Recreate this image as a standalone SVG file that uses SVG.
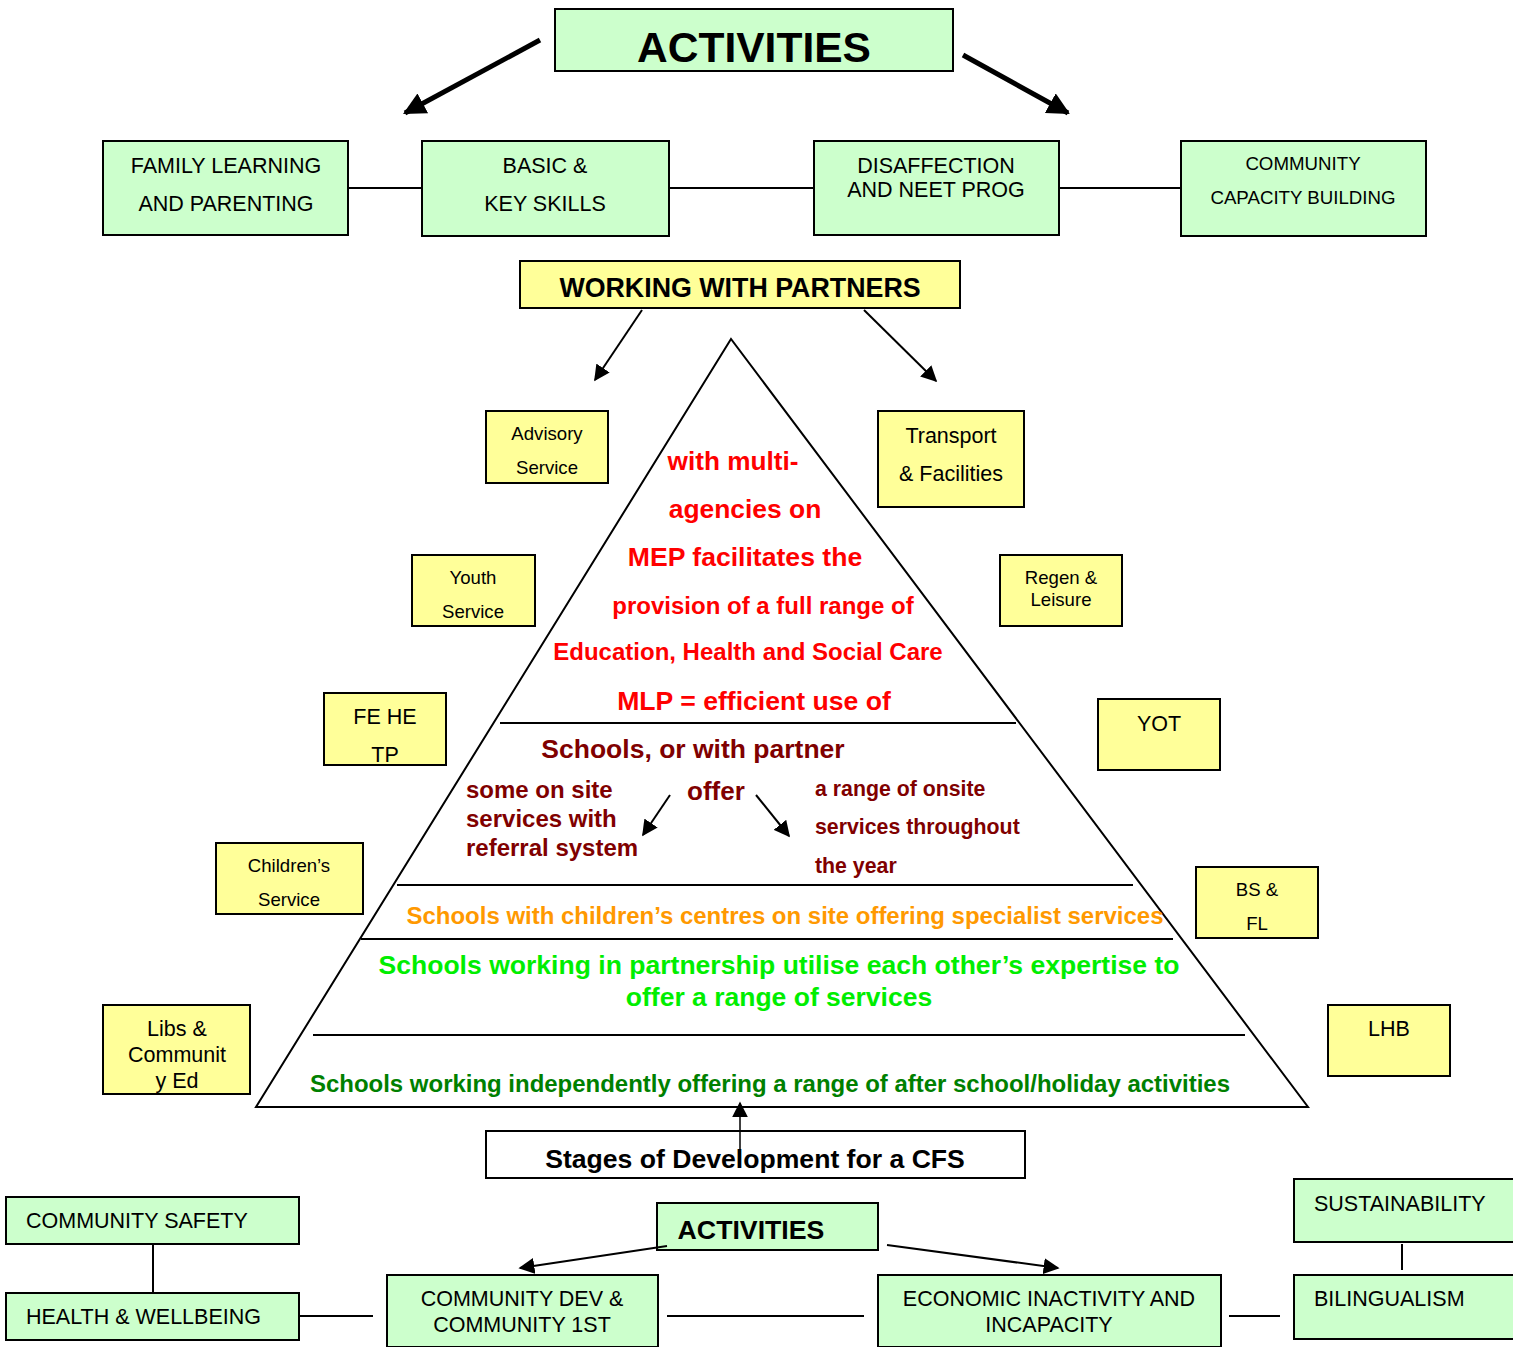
<svg xmlns="http://www.w3.org/2000/svg" width="1513" height="1347" viewBox="0 0 1513 1347">
<defs>
<marker id="ahs" viewBox="0 0 10 10" refX="9" refY="5" markerWidth="16" markerHeight="16" orient="auto" markerUnits="userSpaceOnUse">
<path d="M0,0 L10,5 L0,10 z" fill="#000"/>
</marker>
<marker id="ahb" viewBox="0 0 10 10" refX="9" refY="5" markerWidth="4.5" markerHeight="4.5" orient="auto">
<path d="M0,0 L10,5 L0,10 z" fill="#000"/>
</marker>
</defs>
<style>
text{font-family:"Liberation Sans",Arial,sans-serif;}
.g{fill:#ccffcc;stroke:#000;stroke-width:2;}
.y{fill:#ffff99;stroke:#000;stroke-width:2;}
.w{fill:#fff;stroke:#000;stroke-width:2;}
.t{font-size:21.5px;fill:#000;text-anchor:middle;}
.ts{font-size:18.6px;fill:#000;text-anchor:middle;}
.tl{font-size:21.5px;fill:#000;}
.b{font-weight:bold;}
.red{fill:#ff0000;font-weight:bold;text-anchor:middle;}
.dr{fill:#800000;font-weight:bold;}
.ln{stroke:#000;stroke-width:2;fill:none;}
</style>
<rect width="1513" height="1347" fill="#fff"/>

<g id="activities-top">
<rect class="g" x="555" y="9" width="398" height="62"/>
<text x="754" y="62" class="t b" style="font-size:42.5px">ACTIVITIES</text>
</g>
<g id="family-learning">
<rect class="g" x="103" y="141" width="245" height="94"/>
<text x="226" y="173" class="t">FAMILY LEARNING</text>
<text x="226" y="211" class="t">AND PARENTING</text>
</g>
<g id="basic-skills">
<rect class="g" x="422" y="141" width="247" height="95"/>
<text x="545" y="173" class="t">BASIC &amp;</text>
<text x="545" y="211" class="t">KEY SKILLS</text>
</g>
<g id="disaffection">
<rect class="g" x="814" y="141" width="245" height="94"/>
<text x="936" y="173" class="t">DISAFFECTION</text>
<text x="936" y="197" class="t">AND NEET PROG</text>
</g>
<g id="capacity">
<rect class="g" x="1181" y="141" width="245" height="95"/>
<text x="1303" y="170" class="t" style="font-size:18.7px">COMMUNITY</text>
<text x="1303" y="204" class="t" style="font-size:18.7px">CAPACITY BUILDING</text>
</g>
<g id="working-partners">
<rect class="y" x="520" y="261" width="440" height="47"/>
<text x="740" y="297" class="t b" style="font-size:26.8px">WORKING WITH PARTNERS</text>
</g>

<g id="pyramid">
<polygon points="731,339 256,1107 1308,1107" fill="#fff" stroke="#000" stroke-width="2"/>
<line class="ln" x1="500" y1="723" x2="1016" y2="723"/>
<line class="ln" x1="397" y1="885" x2="1133" y2="885"/>
<line class="ln" x1="361" y1="939" x2="1173" y2="939"/>
<line class="ln" x1="313" y1="1035" x2="1245" y2="1035"/>
<text x="733" y="470" class="red" style="font-size:26.2px">with multi-</text>
<text x="745" y="518" class="red" style="font-size:26.4px">agencies on</text>
<text x="745" y="566" class="red" style="font-size:26.6px">MEP facilitates the</text>
<text x="763" y="614" class="red" style="font-size:24px">provision of a full range of</text>
<text x="748" y="660" class="red" style="font-size:24px">Education, Health and Social Care</text>
<text x="754" y="710" class="red" style="font-size:26.6px">MLP = efficient use of</text>
<text x="693" y="758" class="dr" style="font-size:26.5px" text-anchor="middle">Schools, or with partner</text>
<text x="466" y="798" class="dr" style="font-size:24px">some on site</text>
<text x="466" y="827" class="dr" style="font-size:24px">services with</text>
<text x="466" y="856" class="dr" style="font-size:24px">referral system</text>
<text x="687" y="800" class="dr" style="font-size:26px">offer</text>
<text x="815" y="796" class="dr" style="font-size:21.3px">a range of onsite</text>
<text x="815" y="834" class="dr" style="font-size:21.3px">services throughout</text>
<text x="815" y="873" class="dr" style="font-size:21.3px">the year</text>
<text x="785" y="924" style="font-size:23px;fill:#ff9900;font-weight:bold" text-anchor="middle" textLength="757" lengthAdjust="spacingAndGlyphs">Schools with children’s centres on site offering specialist services</text>
<text x="779" y="974" style="font-size:26px;fill:#00ee00;font-weight:bold" text-anchor="middle" textLength="801" lengthAdjust="spacingAndGlyphs">Schools working in partnership utilise each other’s expertise to</text>
<text x="779" y="1006" style="font-size:26.5px;fill:#00ee00;font-weight:bold" text-anchor="middle">offer a range of services</text>
<text x="770" y="1092" style="font-size:23px;fill:#008000;font-weight:bold" text-anchor="middle" textLength="920" lengthAdjust="spacingAndGlyphs">Schools working independently offering a range of after school/holiday activities</text>
</g>

<g id="stages">
<rect class="w" x="486" y="1131" width="539" height="47"/>
<text x="755" y="1168" class="t b" style="font-size:26.6px">Stages of Development for a CFS</text>
</g>

<g id="advisory"><rect class="y" x="486" y="411" width="122" height="72"/>
<text x="547" y="440" class="ts">Advisory</text><text x="547" y="474" class="ts">Service</text></g>
<g id="transport"><rect class="y" x="878" y="411" width="146" height="96"/>
<text x="951" y="443" class="t">Transport</text><text x="951" y="481" class="t">&amp; Facilities</text></g>
<g id="youth"><rect class="y" x="412" y="555" width="123" height="71"/>
<text x="473" y="584" class="ts">Youth</text><text x="473" y="618" class="ts">Service</text></g>
<g id="regen"><rect class="y" x="1000" y="555" width="122" height="71"/>
<text x="1061" y="584" class="ts">Regen &amp;</text><text x="1061" y="606" class="ts">Leisure</text></g>
<g id="fehe"><rect class="y" x="324" y="693" width="122" height="72"/>
<text x="385" y="724" class="t">FE HE</text><text x="385" y="762" class="t">TP</text></g>
<g id="yot"><rect class="y" x="1098" y="699" width="122" height="71"/>
<text x="1159" y="731" class="t">YOT</text></g>
<g id="childrens"><rect class="y" x="216" y="843" width="147" height="71"/>
<text x="289" y="872" class="ts">Children’s</text><text x="289" y="906" class="ts">Service</text></g>
<g id="bsfl"><rect class="y" x="1196" y="867" width="122" height="71"/>
<text x="1257" y="896" class="ts">BS &amp;</text><text x="1257" y="930" class="ts">FL</text></g>
<g id="libs"><rect class="y" x="103" y="1005" width="147" height="89"/>
<text x="177" y="1036" class="t">Libs &amp;</text><text x="177" y="1062" class="t">Communit</text><text x="177" y="1088" class="t">y Ed</text></g>
<g id="lhb"><rect class="y" x="1328" y="1005" width="122" height="71"/>
<text x="1389" y="1036" class="t">LHB</text></g>

<g id="community-safety"><rect class="g" x="6" y="1197" width="293" height="47"/>
<text x="26" y="1228" class="tl">COMMUNITY SAFETY</text></g>
<g id="health"><rect class="g" x="6" y="1293" width="293" height="47"/>
<text x="26" y="1324" class="tl">HEALTH &amp; WELLBEING</text></g>
<g id="activities-bottom"><rect class="g" x="657" y="1203" width="221" height="47"/>
<text x="751" y="1239" class="t b" style="font-size:26.7px">ACTIVITIES</text></g>
<g id="community-dev"><rect class="g" x="387" y="1275" width="271" height="72"/>
<text x="522" y="1306" class="t">COMMUNITY DEV &amp;</text><text x="522" y="1332" class="t">COMMUNITY 1ST</text></g>
<g id="economic"><rect class="g" x="878" y="1275" width="343" height="72"/>
<text x="1049" y="1306" class="t">ECONOMIC INACTIVITY AND</text><text x="1049" y="1332" class="t">INCAPACITY</text></g>
<g id="sustainability"><rect class="g" x="1294" y="1179" width="225" height="63"/>
<text x="1314" y="1211" class="tl">SUSTAINABILITY</text></g>
<g id="bilingualism"><rect class="g" x="1294" y="1275" width="225" height="64"/>
<text x="1314" y="1306" class="tl">BILINGUALISM</text></g>

<g id="connectors">
<line x1="540" y1="40" x2="405" y2="113" stroke="#000" stroke-width="5" marker-end="url(#ahb)"/>
<line x1="963" y1="55" x2="1068" y2="113" stroke="#000" stroke-width="5" marker-end="url(#ahb)"/>
<line class="ln" x1="348" y1="188" x2="422" y2="188"/>
<line class="ln" x1="669" y1="188" x2="814" y2="188"/>
<line class="ln" x1="1059" y1="188" x2="1181" y2="188"/>
<line x1="642" y1="310" x2="595" y2="380" stroke="#000" stroke-width="2" marker-end="url(#ahs)"/>
<line x1="864" y1="310" x2="936" y2="381" stroke="#000" stroke-width="2" marker-end="url(#ahs)"/>
<line x1="670" y1="795" x2="643" y2="835" stroke="#000" stroke-width="2" marker-end="url(#ahs)"/>
<line x1="756" y1="795" x2="789" y2="836" stroke="#000" stroke-width="2" marker-end="url(#ahs)"/>
<line x1="740" y1="1160" x2="740" y2="1103" stroke="#000" stroke-width="1.5" marker-end="url(#ahs)"/>
<line class="ln" x1="153" y1="1244" x2="153" y2="1293"/>
<line class="ln" x1="299" y1="1316" x2="373" y2="1316"/>
<line class="ln" x1="667" y1="1316" x2="864" y2="1316"/>
<line class="ln" x1="1229" y1="1316" x2="1280" y2="1316"/>
<line class="ln" x1="1402" y1="1244" x2="1402" y2="1270"/>
<line x1="667" y1="1246" x2="520" y2="1268" stroke="#000" stroke-width="2" marker-end="url(#ahs)"/>
<line x1="887" y1="1245" x2="1058" y2="1268" stroke="#000" stroke-width="2" marker-end="url(#ahs)"/>
</g>
</svg>
